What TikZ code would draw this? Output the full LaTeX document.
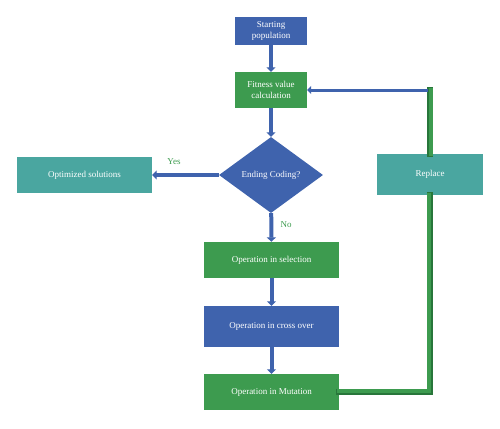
\documentclass[tikz,border=0pt]{standalone}
\usepackage{fontspec}
\setmainfont{Liberation Serif}
\usepackage{tikz}
\usetikzlibrary{shapes.geometric,arrows.meta}
\definecolor{stepblue}{RGB}{63, 99, 173}
\definecolor{stepgreen}{RGB}{61, 155, 79}
\definecolor{stepteal}{RGB}{74, 166, 160}
\definecolor{loopdark}{RGB}{40, 118, 58}

\tikzset{
    box/.style={rectangle, text=white, font=\fontsize{9}{10.5}\selectfont, align=center, inner sep=0pt},
    flow/.style={stepblue, line width=4pt, -{Triangle[width=9pt,length=4.5pt]}},
    back/.style={stepgreen, line width=4pt, line cap=rect}
}

\begin{document}
\begin{tikzpicture}[x=1pt,y=-1pt]
    \useasboundingbox (0,0) rectangle (500,428);

    % Starting and fitness boxes
    \node[box, fill=stepblue, minimum width=72pt, minimum height=28pt] (start) at (271,31) {Starting\\population};
    \node[box, fill=stepgreen, minimum width=72pt, minimum height=36pt] (fit) at (271,90) {Fitness value\\calculation};

    % Decision
    \node[diamond, fill=stepblue, text=white, font=\fontsize{9}{10.5}\selectfont, inner sep=0pt,
          minimum width=104pt, minimum height=76pt] (dec) at (271,175) {Ending Coding?};

    % Outcome and replace boxes
    \node[box, fill=stepteal, minimum width=135pt, minimum height=36pt] (opt) at (84.5,175) {Optimized solutions};
    \node[box, fill=stepteal, minimum width=106pt, minimum height=41pt] (repl) at (430,174.5) {Replace};

    % Operations
    \node[box, fill=stepgreen, minimum width=135pt, minimum height=36pt] (sel) at (271.5,260) {Operation in selection};
    \node[box, fill=stepblue, minimum width=135pt, minimum height=41pt] (cross) at (271.5,326.5) {Operation in cross over};
    \node[box, fill=stepgreen, minimum width=135pt, minimum height=36pt] (mut) at (271.5,392) {Operation in Mutation};

    % Forward arrows
    \draw[flow] (start) -- (fit);
    \draw[flow] (fit) -- (dec);
    \draw[flow] (dec) -- (opt);
    \draw[flow] (dec) -- (sel);
    \draw[flow] (sel) -- (cross);
    \draw[flow] (cross) -- (mut);
    \node[text=stepgreen, font=\fontsize{9}{10.5}\selectfont] (yes) at (174,162) {Yes};
    \node[text=stepgreen, font=\fontsize{9}{10.5}\selectfont] (no) at (286,225) {No};

    % Loop back
    \coordinate (rc) at (430,90);
    \draw[back, loopdark, line width=6pt] (mut.east) -| (repl.south);
    \draw[back] ([yshift=1pt]mut.east) -| ([xshift=-1pt]repl.south);
    \draw[back, loopdark, line width=6pt] (repl.north) -- (rc);
    \draw[back] ([xshift=1pt]repl.north) -- ([xshift=1pt]rc);
    \draw[stepblue, line width=3pt, -{Triangle[width=8pt,length=4pt]}] ([xshift=-2pt]rc) -- (fit.east);
\end{tikzpicture}
\end{document}
